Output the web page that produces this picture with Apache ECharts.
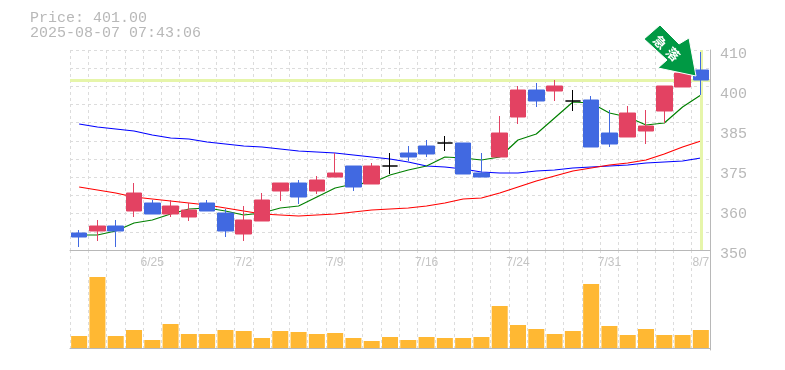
<!DOCTYPE html>
<html><head><meta charset="utf-8">
<style>html,body{margin:0;padding:0;background:#fff}#c{width:785px;height:370px}</style>
<script src="https://cdn.jsdelivr.net/npm/echarts@6/dist/echarts.min.js"></script>
</head><body><div id="c"></div>
<script>
const categories=['6/19','6/20','6/23','6/24','6/25','6/26','6/27','6/30','7/1','7/2','7/3','7/4','7/7','7/8','7/9','7/10','7/11','7/14','7/15','7/16','7/17','7/18','7/22','7/23','7/24','7/25','7/28','7/29','7/30','7/31','8/1','8/4','8/5','8/6','8/7'];
const tickDates=['6/25','7/2','7/9','7/16','7/24','7/31','8/7'];
// open, close, low, high
const ohlc=[[355.1,353.9,350.9,356],[355.7,357.2,352.7,359],[357.2,355.7,350.9,359],[361.7,367.1,359.9,370.1],[364.1,360.8,360.8,365],[360.8,363.2,359.9,365],[359.9,362,358.7,364.1],[364.1,361.7,361.7,365],[361.1,355.7,353.9,362.3],[354.8,359,352.7,363.2],[358.7,365,358.7,367.1],[367.7,370.1,364.7,370.1],[370.1,365.9,363.8,371],[367.7,371,366.8,372.2],[371.9,373.1,371.9,379.1],[375.2,368.9,367.7,375.2],[369.8,375.2,369.8,376.1],[375.2,375.2,372.8,379.1],[379.1,377.9,376.7,381.2],[381.2,378.8,377.9,383],[382.1,382.1,379.7,384.2],[382.1,372.8,372.8,382.1],[373.1,371.9,371.9,379.1],[377.9,385.1,377.9,390.2],[389.9,398,387.8,399.2],[398,394.7,392.9,400.1],[397.7,399.2,394.7,401],[394.7,394.7,391.7,398],[395,380.9,380.9,396.2],[385.1,381.8,380.9,392],[383.9,391.1,383.9,393.2],[385.7,387.2,381.8,392],[391.7,399.2,388.1,399.2],[398.9,403.1,398.9,403.1],[404,401,396.5,409.4]];
const maShort=[354.5,354.5,355.7,358.1,359,360.8,362.3,362.6,361.7,360.5,361.1,362.6,363.2,365.9,368.6,369.8,370.1,372.5,374,375.2,377.9,377.6,377,377.9,383,384.8,389.6,394.4,394.1,391.1,389.9,387.5,388.1,392.9,396.5];
const maMid=[368.9,368,367.1,365.9,365.3,364.7,364.1,363.5,362.6,361.7,360.8,360.5,360.2,360.5,360.8,361.4,362,362.3,362.6,363.2,364.1,365.3,365.6,367.1,368.9,370.7,372.2,373.7,374.6,375.5,376.1,377,378.8,380.9,382.7];
const maLong=[387.8,386.9,386.3,385.7,384.5,383.6,383.3,382.4,381.8,381.2,380.9,380.3,379.7,379.4,379.1,378.5,377.9,377.3,376.4,375.2,374.9,374.3,373.4,373.1,373.1,373.7,374,374.6,374.9,375.2,375.5,376.1,376.4,376.7,377.6];
const volume=[12,71,12,18,8,24,14,14,18,17,10,17,16,14,15,10,7,11,8,11,10,10,11,42,23,19,14,17,64,22,13,19,13,13,18];
const priceTicks=[350,362,374,386,398,410];
const priceLabels=['350','360','375','385','400','410'];
const priceNow=401;
const priceTitle='Price: 401.00';
const stamp='2025-08-07 07:43:06';
const MONO='"Liberation Mono","DejaVu Sans Mono",monospace';
const GREY='#b8b8b8', GRID='#dcdcdc';
const line=(data,color)=>({type:'line',data,symbol:'none',smooth:false,z:3,animation:false,lineStyle:{color,width:1.2}});
const chart=echarts.init(document.getElementById('c'),null,{renderer:'canvas'});
chart.setOption({
 animation:false,backgroundColor:'#fff',
 title:{text:priceTitle+'\n'+stamp,left:30,top:11,padding:0,textStyle:{fontFamily:MONO,fontSize:15,fontWeight:'normal',color:GREY,lineHeight:15}},
 grid:[{left:70,top:50,width:640,height:200},{left:70,top:250,width:640,height:100}],
 xAxis:[
  {type:'category',gridIndex:0,data:categories,boundaryGap:true,
   axisLine:{show:true,lineStyle:{color:GREY,width:1}},axisTick:{show:false},
   axisLabel:{interval:(i,v)=>tickDates.includes(v),hideOverlap:false,margin:7,fontFamily:'"Liberation Sans"',fontSize:12,color:'#c4c4c4'},
   splitLine:{show:true,interval:0,lineStyle:{color:GRID,type:[3,3],width:1}}},
  {type:'category',gridIndex:1,data:categories,boundaryGap:true,
   axisLine:{show:true,lineStyle:{color:GREY,width:1}},axisTick:{show:false},axisLabel:{show:false},
   splitLine:{show:true,interval:0,lineStyle:{color:GRID,type:[3,3],width:1}}}
 ],
 yAxis:[
  {type:'value',gridIndex:0,position:'right',min:350,max:410,
   axisLine:{show:true,lineStyle:{color:GREY,width:1}},
   axisTick:{show:false},
   axisLabel:{customValues:priceTicks,margin:10,fontFamily:MONO,fontSize:15,color:GREY,verticalAlign:'top',lineHeight:8,
     formatter:v=>priceLabels[priceTicks.indexOf(Math.round(v))]},
   splitLine:{show:false}},
  {type:'value',gridIndex:0,position:'left',min:0,max:11,interval:1,
   axisLine:{show:false},axisTick:{show:false},axisLabel:{show:false},
   splitLine:{show:true,lineStyle:{color:GRID,type:[3,3],width:1}}},
  {type:'value',gridIndex:1,position:'right',min:-2,max:98,
   axisLine:{show:true,lineStyle:{color:GREY,width:1}},axisTick:{show:false},axisLabel:{show:false},splitLine:{show:false}}
 ],
 series:[
  {type:'line',data:[],z:1,markLine:{silent:true,symbol:'none',animation:false,label:{show:false},
    lineStyle:{color:'#e6f5aa',width:3,type:'solid'},
    data:[{yAxis:priceNow},{xAxis:categories[categories.length-1]}]}},
  line(maLong,'#0000ff'),line(maMid,'#ff0000'),line(maShort,'#008000'),
  {type:'candlestick',data:ohlc,barWidth:16,z:5,
   itemStyle:{color:'#e34262',color0:'#4169e1',borderColor:'#e34262',borderColor0:'#4169e1',borderColorDoji:'#000',borderWidth:1}},
  {type:'bar',xAxisIndex:1,yAxisIndex:2,data:volume,barWidth:16,itemStyle:{color:'#ffb833'}}
 ],
 graphic:[
  {type:'polygon',z:50,shape:{points:[[644,39],[660,25],[679,44],[689,38],[696,76],[658,68],[667,60]]},style:{fill:'#009944',stroke:'#fff',lineWidth:1}},
  {type:'text',z:51,x:660,y:42,rotation:-Math.PI/4,style:{text:'急',fill:'#fff',font:'bold 13px "Noto Sans CJK JP"',align:'center',verticalAlign:'middle'}},
  {type:'text',z:51,x:673,y:54,rotation:-Math.PI/4,style:{text:'落',fill:'#fff',font:'bold 13px "Noto Sans CJK JP"',align:'center',verticalAlign:'middle'}}
 ]
});
</script></body></html>
